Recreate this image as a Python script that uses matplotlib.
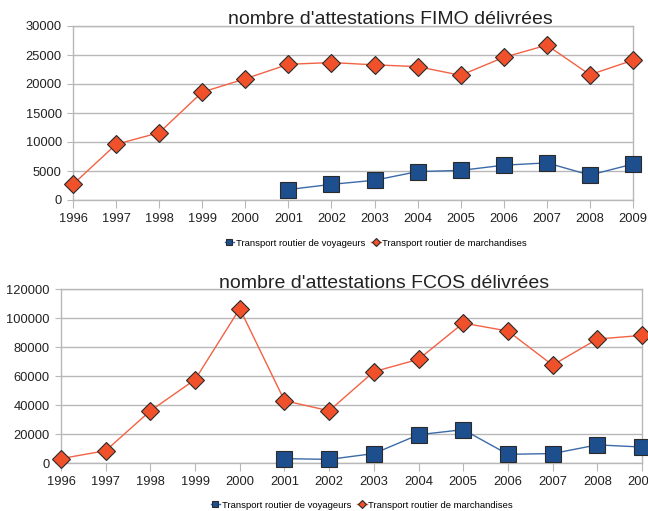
import matplotlib
matplotlib.use("Agg")
import matplotlib.pyplot as plt

plt.rcParams['font.family'] = ['Liberation Sans', 'DejaVu Sans']

years = list(range(1996, 2010))
years_voy = list(range(2001, 2010))

fimo_march = [2700, 9600, 11600, 18600, 20900, 23400, 23700, 23300, 23000, 21500, 24600, 26700, 21600, 24100]
fimo_voy = [1800, 2700, 3400, 4900, 5100, 6000, 6400, 4300, 6200]

fcos_march = [3000, 8500, 36000, 57500, 106500, 43000, 36000, 63000, 71500, 96500, 91000, 67500, 85500, 88000]
fcos_voy = [3000, 2500, 6500, 19500, 23000, 6000, 6500, 12500, 11000]

titles = ["nombre d'attestations FIMO délivrées", "nombre d'attestations FCOS délivrées"]
lab_voy = "Transport routier de voyageurs"
lab_march = "Transport routier de marchandises"

W, H = 648, 511
fig = plt.figure(figsize=(W / 100, H / 100), dpi=100)

BLUE = '#1d4f8e'
BLUE_LINE = '#3b6aa8'
ORANGE = '#f0502a'
ORANGE_LINE = '#f26244'
GRID = '#b8b8b8'


def make_axes(x0, x1, ytop, ybot):
    return fig.add_axes([x0 / W, 1 - ybot / H, (x1 - x0) / W, (ybot - ytop) / H])


configs = [
    dict(box=(73, 633, 26, 200), march=fimo_march, voy=fimo_voy, ymax=30000, step=5000,
         title=titles[0], tx=390, ty=19, legy=243, legx=376),
    dict(box=(61, 642, 289, 463), march=fcos_march, voy=fcos_voy, ymax=120000, step=20000,
         title=titles[1], tx=384, ty=283, legy=505, legx=362),
]

for c in configs:
    ax = make_axes(*c['box'])
    ax.plot(years_voy, c['voy'], color=BLUE_LINE, lw=1.0, marker='s', ms=11,
            mfc=BLUE, mec='#2a2a2a', mew=0.8, label=lab_voy, zorder=3, clip_on=False)
    ax.plot(years, c['march'], color=ORANGE_LINE, lw=1.0, marker='D', ms=9,
            mfc=ORANGE, mec='#2a2a2a', mew=0.8, label=lab_march, zorder=4, clip_on=False)
    ax.set_xlim(1996, 2009)
    ax.set_ylim(0, c['ymax'])
    ax.set_xticks(years)
    ax.set_yticks(list(range(0, c['ymax'] + 1, c['step'])))
    ax.yaxis.grid(True, color=GRID, lw=1.0)
    ax.set_axisbelow(True)
    for s in ax.spines.values():
        s.set_color(GRID)
        s.set_linewidth(1.0)
    ax.tick_params(axis='x', direction='out', length=6, color=GRID, labelsize=9.3, pad=3, labelcolor='#222222')
    ax.tick_params(axis='y', direction='out', length=4, color=GRID, labelsize=9.3, pad=4, labelcolor='#222222')
    fig.text(c['tx'] / W, 1 - c['ty'] / H, c['title'], ha='center', va='center', fontsize=14, color='#222222')
    leg = fig.legend(*ax.get_legend_handles_labels(), loc='center', ncol=2,
                     bbox_to_anchor=(c['legx'] / W, 1 - c['legy'] / H), frameon=False,
                     fontsize=6.8, markerscale=0.45, handlelength=1.0, handletextpad=0.2,
                     columnspacing=0.6, borderpad=0)

fig.savefig('out.png', dpi=100)
